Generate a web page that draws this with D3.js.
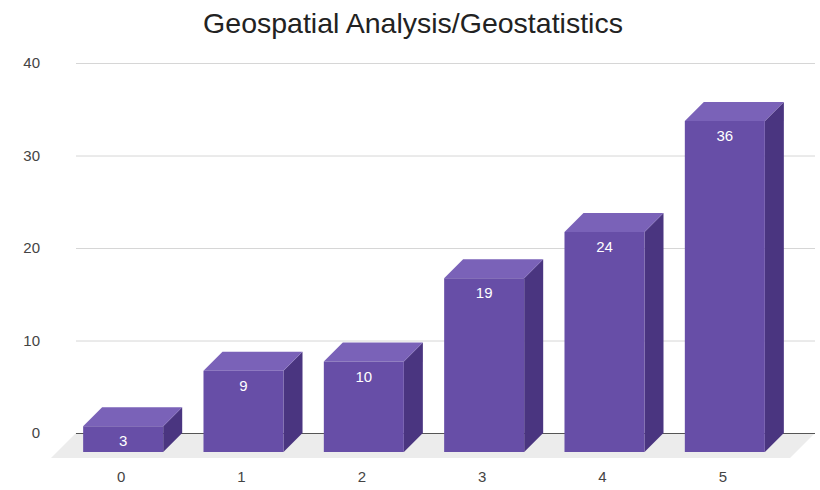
<!DOCTYPE html>
<html>
<head>
<meta charset="utf-8">
<script src="https://cdn.jsdelivr.net/npm/d3@7"></script>
<style>
  html, body { margin: 0; padding: 0; background: #fff; }
  svg { display: block; font-family: "Liberation Sans", Arial, sans-serif; }
</style>
</head>
<body>
<svg id="chart" width="820" height="490"></svg>
<script>
const title = "Geospatial Analysis/Geostatistics";
const categories = ["0", "1", "2", "3", "4", "5"];
const values = [3, 9, 10, 19, 24, 36];
const yTicks = [0, 10, 20, 30, 40];

const svg = d3.select("#chart");
const W = 820, H = 490;
const depth = 19;        // 3D depth offset (px)
const lift = 2;          // slight projection offset of bar tops

const y = d3.scaleLinear().domain([0, 40]).range([433, 63]);
const x = d3.scaleBand().domain(categories).range([63, 785])
  .paddingInner(0.335).paddingOuter(0.1675);

const gridX0 = 76, gridX1 = 815;

svg.append("rect").attr("width", W).attr("height", H).attr("fill", "#fff");

// title
svg.append("text")
  .attr("x", 413).attr("y", 33)
  .attr("text-anchor", "middle")
  .attr("font-size", 28.5)
  .attr("fill", "#222")
  .text(title);

// gridlines
svg.append("g").selectAll("line")
  .data(yTicks.filter(d => d !== 0))
  .join("line")
  .attr("x1", gridX0).attr("x2", gridX1)
  .attr("y1", d => y(d) + 0.5).attr("y2", d => y(d) + 0.5)
  .attr("stroke", "#d6d6d6").attr("stroke-width", 1);

// y tick labels
svg.append("g").selectAll("text")
  .data(yTicks)
  .join("text")
  .attr("x", 40).attr("y", d => y(d) + 5)
  .attr("text-anchor", "end")
  .attr("font-size", 15)
  .attr("fill", "#444")
  .text(d => d);

// floor
const fy = y(0), fd = 25;
svg.append("polygon")
  .attr("points", [
    [gridX0, fy], [gridX1, fy], [gridX1 - fd, fy + fd], [gridX0 - fd, fy + fd]
  ].map(p => p.join(",")).join(" "))
  .attr("fill", "#ececec");

// zero baseline
svg.append("line")
  .attr("x1", gridX0).attr("x2", gridX1)
  .attr("y1", y(0) + 0.5).attr("y2", y(0) + 0.5)
  .attr("stroke", "#555").attr("stroke-width", 1);

// bars
const bw = x.bandwidth();
const bottom = y(0) + depth;
const bars = svg.append("g").selectAll("g")
  .data(categories.map((c, i) => ({ c, v: values[i] })))
  .join("g");

const ft = d => y(d.v) + depth + lift;

bars.append("polygon") // right face
  .attr("points", d => {
    const x0 = x(d.c) + bw, t = ft(d);
    return [[x0, t], [x0 + depth, t - depth], [x0 + depth, bottom - depth], [x0, bottom]]
      .map(p => p.join(",")).join(" ");
  })
  .attr("fill", "#4a3580");

bars.append("polygon") // top face
  .attr("points", d => {
    const x0 = x(d.c), t = ft(d);
    return [[x0, t], [x0 + depth, t - depth], [x0 + bw + depth, t - depth], [x0 + bw, t]]
      .map(p => p.join(",")).join(" ");
  })
  .attr("fill", "#7a62b8");

bars.append("rect") // front face
  .attr("x", d => x(d.c))
  .attr("y", d => ft(d))
  .attr("width", bw)
  .attr("height", d => bottom - ft(d))
  .attr("fill", "#674ea7");

bars.append("text")
  .attr("x", d => x(d.c) + bw / 2)
  .attr("y", d => ft(d) + 20)
  .attr("text-anchor", "middle")
  .attr("font-size", 15)
  .attr("fill", "#fff")
  .text(d => d.v);

// x labels
svg.append("g").selectAll("text")
  .data(categories)
  .join("text")
  .attr("x", d => x(d) + bw / 2 - 2)
  .attr("y", 482)
  .attr("text-anchor", "middle")
  .attr("font-size", 15)
  .attr("fill", "#444")
  .text(d => d);
</script>
</body>
</html>
